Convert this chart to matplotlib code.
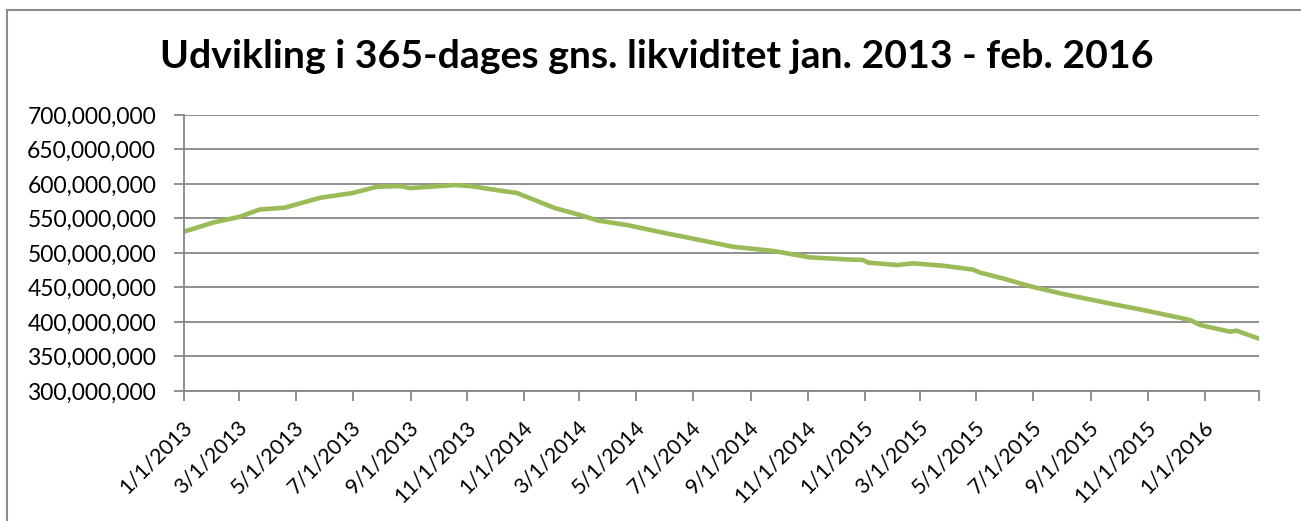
import matplotlib.pyplot as plt
import matplotlib.patches as patches
import matplotlib.transforms as mtransforms
import pandas as pd

# values (millions)
dates = ['2013-01-01', '2013-02-01', '2013-03-02', '2013-03-23', '2013-04-19',
         '2013-05-27', '2013-07-01', '2013-07-27', '2013-08-21', '2013-08-31',
         '2013-10-19', '2013-11-04', '2013-12-03', '2013-12-24', '2014-02-03',
         '2014-03-02', '2014-03-21', '2014-04-21', '2014-05-30', '2014-06-24',
         '2014-08-13', '2014-09-25', '2014-11-03', '2014-12-16', '2014-12-30',
         '2015-01-05', '2015-02-05', '2015-02-22', '2015-03-26', '2015-04-27',
         '2015-05-05', '2015-05-29', '2015-06-27', '2015-08-02', '2015-09-29',
         '2015-10-23', '2015-12-16', '2015-12-27', '2016-01-28', '2016-02-04',
         '2016-02-28']
values_m = [531, 544, 552.6, 563, 565.7,
            580, 587, 596, 597, 594,
            598.5, 597, 591, 587, 565,
            555, 547, 540.6, 529.4, 522.7,
            509, 503, 493.7, 490.5, 490,
            486, 482.6, 485, 481.6, 476,
            471.5, 463.3, 452, 440.6, 424.6,
            418.4, 403, 395.6, 386, 387.4,
            375.8]

tick_dates = ['2013-01-01', '2013-03-01', '2013-05-01', '2013-07-01', '2013-09-01',
              '2013-11-01', '2014-01-01', '2014-03-01', '2014-05-01', '2014-07-01',
              '2014-09-01', '2014-11-01', '2015-01-01', '2015-03-01', '2015-05-01',
              '2015-07-01', '2015-09-01', '2015-11-01', '2016-01-01', '2016-02-28']
tick_labels = ['1/1/2013', '3/1/2013', '5/1/2013', '7/1/2013', '9/1/2013',
               '11/1/2013', '1/1/2014', '3/1/2014', '5/1/2014', '7/1/2014',
               '9/1/2014', '11/1/2014', '1/1/2015', '3/1/2015', '5/1/2015',
               '7/1/2015', '9/1/2015', '11/1/2015', '1/1/2016', '']

title = 'Udvikling i 365-dages gns. likviditet jan. 2013 - feb. 2016'

plt.rcParams['font.family'] = ['Lato', 'DejaVu Sans']

x = pd.to_datetime(dates)
y = [v * 1e6 for v in values_m]

fig = plt.figure(figsize=(13.01, 5.21), dpi=100)
fig.patches.append(patches.Rectangle((7 / 1301, -0.1), 1.2, (511 / 521) + 0.1,
                                     transform=fig.transFigure, fill=False,
                                     edgecolor='#8c8c8c', linewidth=1.5))
ax = fig.add_axes([184 / 1301, 130 / 521, 1075 / 1301, 276 / 521])

ax.plot(x, y, color='#9BBB59', linewidth=3.3, solid_capstyle='round')

ax.set_ylim(300e6, 700e6)
ax.set_yticks([300e6 + 50e6 * i for i in range(9)])
ax.yaxis.set_major_formatter(plt.FuncFormatter(lambda v, p: f'{v:,.0f}'))
ax.set_xlim(pd.Timestamp('2013-01-01'), pd.Timestamp('2016-02-28'))
ax.set_xticks(pd.to_datetime(tick_dates))
ax.set_xticklabels(tick_labels, rotation=45, ha='right', va='center',
                   rotation_mode='anchor')

ax.grid(axis='y', color='#878787', linewidth=1.3)
ax.set_axisbelow(True)
for s in ['top', 'right']:
    ax.spines[s].set_visible(False)
for s in ['left', 'bottom']:
    ax.spines[s].set_color('#878787')
    ax.spines[s].set_linewidth(1.3)
ax.tick_params(axis='both', colors='#878787', length=7, width=1.3,
               labelcolor='black', labelsize=16.5)
ax.tick_params(axis='y', pad=13)
ax.tick_params(axis='x', pad=17, labelsize=15.5)

shift = mtransforms.ScaledTranslation(5 / 100, 0, fig.dpi_scale_trans)
for lbl in ax.get_xticklabels():
    lbl.set_transform(lbl.get_transform() + shift)

fig.text(0.505, 0.892, title, ha='center', va='center',
         fontsize=28.3, fontweight='bold')

fig.savefig('out.png', dpi=100)
